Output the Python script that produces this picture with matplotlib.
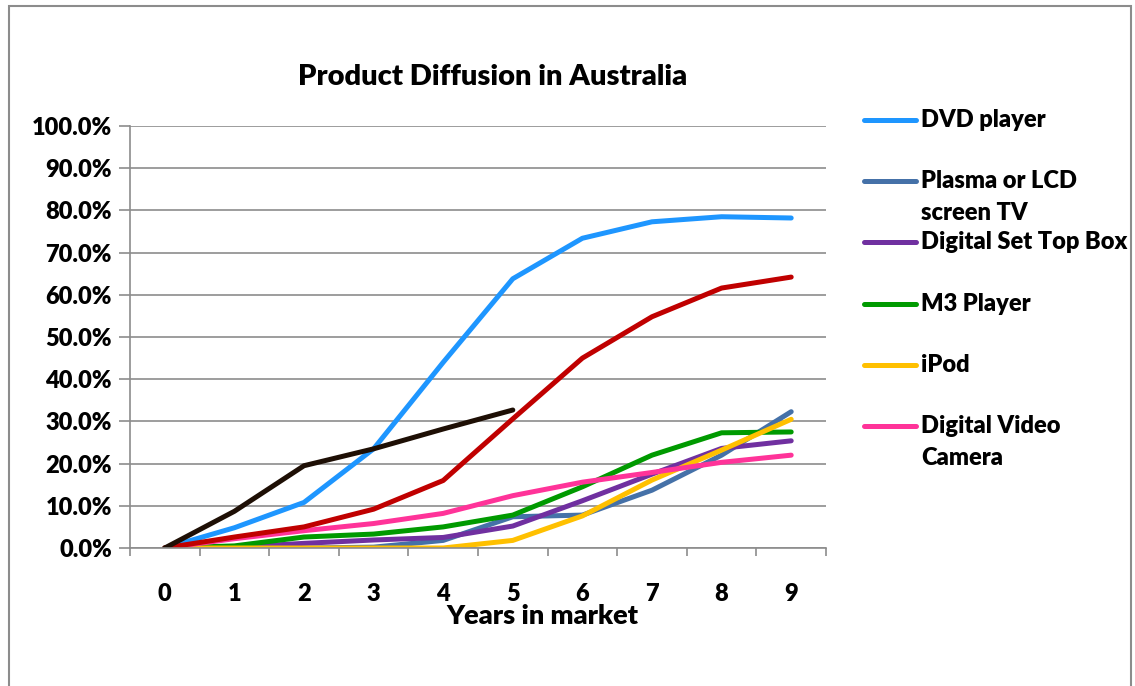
import numpy as np
import matplotlib.pyplot as plt
from matplotlib.lines import Line2D
from matplotlib.patches import Rectangle
from matplotlib.ticker import FuncFormatter

plt.rcParams['font.family'] = ['Lato', 'DejaVu Sans']
plt.rcParams['font.weight'] = 'heavy'

years = np.arange(10)

dvd = [0, 4.8, 10.8, 23.5, 44.0, 63.8, 73.4, 77.3, 78.5, 78.2]
plasma = [0, 0, 0, 0.2, 1.8, 7.4, 7.8, 13.7, 22.0, 32.3]
settop = [0, 0.2, 1.1, 1.9, 2.5, 5.2, 11.2, 17.5, 23.6, 25.4]
m3 = [0, 0.5, 2.6, 3.3, 5.0, 7.8, 14.5, 22.0, 27.3, 27.5]
ipod = [0, 0, 0, 0, 0, 1.8, 7.6, 16.1, 23.2, 30.5]
dvc = [0, 2.2, 4.1, 5.8, 8.2, 12.4, 15.6, 17.9, 20.3, 22.0]
unnamed_red = [0, 2.6, 5.0, 9.2, 16.0, 30.6, 45.0, 54.8, 61.6, 64.2]
unnamed_black = [0, 8.7, 19.5, 23.5, 28.2, 32.7]

legend_names = ['DVD player', 'Plasma or LCD\nscreen TV', 'Digital Set Top Box',
                'M3 Player', 'iPod', 'Digital Video\nCamera']
legend_colors = ['#1e96ff', '#4571a8', '#7030a0', '#009a00', '#ffc000', '#ff3399']

fig = plt.figure(figsize=(11.35, 6.86), dpi=100)
fig.patches.append(Rectangle((9 / 1135, -0.01), 1122 / 1135, 1 - 6 / 686 + 0.01,
                             transform=fig.transFigure, fill=False,
                             edgecolor='#8c8c8c', linewidth=1.5))

ax = fig.add_axes([130 / 1135, 1 - 548 / 686, 696 / 1135, 422 / 686])

lw = 3.6
series = [dvd, plasma, settop, m3, ipod, dvc]
for vals, col in zip(series, legend_colors):
    ax.plot(years, np.array(vals) / 100, color=col, linewidth=lw,
            solid_capstyle='round', solid_joinstyle='round')
ax.plot(years, np.array(unnamed_red) / 100, color='#c00000', linewidth=lw,
        solid_capstyle='round', solid_joinstyle='round')
ax.plot(years[:len(unnamed_black)], np.array(unnamed_black) / 100, color='#1e0f05',
        linewidth=lw, solid_capstyle='round', solid_joinstyle='round')

ax.set_xlim(-0.5, 9.5)
ax.set_ylim(0, 1.0)
ax.set_yticks(np.arange(0, 1.01, 0.1))
ax.yaxis.set_major_formatter(FuncFormatter(lambda v, p: f'{v * 100:.1f}%'))
ax.set_xticks(years)
ax.set_xticks(np.arange(-0.5, 9.6, 1), minor=True)
ax.tick_params(axis='x', which='major', length=0, pad=25, labelsize=17)
ax.tick_params(axis='x', which='minor', length=6, color='#8c8c8c', width=1.2)
ax.tick_params(axis='y', length=8, color='#8c8c8c', width=1.2, labelsize=17, pad=5)
for lab in ax.get_xticklabels() + ax.get_yticklabels():
    lab.set_fontweight('heavy')

ax.grid(axis='y', color='#8c8c8c', linewidth=1.2)
ax.set_axisbelow(True)
for s in ['top', 'right']:
    ax.spines[s].set_visible(False)
for s in ['left', 'bottom']:
    ax.spines[s].set_color('#8c8c8c')
    ax.spines[s].set_linewidth(1.2)

ax.set_xlabel('Years in market', fontsize=19.5, fontweight='heavy')
ax.xaxis.set_label_coords((542 - 130) / 696, -(616 - 548) / 422)
ax.xaxis.label.set_va('center')
fig.text(493 / 1135, 1 - 77 / 686, 'Product Diffusion in Australia', ha='center',
         va='center', fontsize=21, fontweight='heavy')

# legend drawn by hand so the handle sits on the first text line
for i, (name, col) in enumerate(zip(legend_names, legend_colors)):
    y_px = 120 + 61.2 * i
    y = 1 - y_px / 686
    fig.add_artist(Line2D([864 / 1135, 916 / 1135], [y, y], transform=fig.transFigure,
                          color=col, linewidth=3.6, solid_capstyle='round'))
    for j, part in enumerate(name.split('\n')):
        fig.text(921 / 1135, 1 - (y_px + 32 * j) / 686, part, ha='left', va='center',
                 fontsize=17, fontweight='heavy')

fig.savefig('out.png', dpi=100)
